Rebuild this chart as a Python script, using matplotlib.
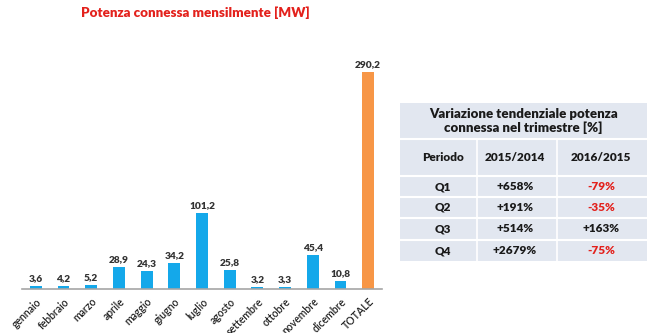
import matplotlib
matplotlib.use("Agg")
import matplotlib.pyplot as plt
from matplotlib.patches import Rectangle

plt.rcParams['font.family'] = ['Lato', 'DejaVu Sans']

# monthly connected power [MW]
mesi = ['gennaio', 'febbraio', 'marzo', 'aprile', 'maggio', 'giugno', 'luglio',
        'agosto', 'settembre', 'ottobre', 'novembre', 'dicembre', 'TOTALE']
valori = [3.6, 4.2, 5.2, 28.9, 24.3, 34.2, 101.2, 25.8, 3.2, 3.3, 45.4, 10.8, 290.2]

# quarterly table
tab_titolo = 'Variazione tendenziale potenza\nconnessa nel trimestre [%]'
tab_header = ['Periodo', '2015/2014', '2016/2015']
periodi = ['Q1', 'Q2', 'Q3', 'Q4']
var_2015 = ['+658%', '+191%', '+514%', '+2679%']
var_2016 = ['-79%', '-35%', '+163%', '-75%']

W, H = 650, 333
fig = plt.figure(figsize=(W / 100, H / 100), dpi=100)
BOLD = 'heavy'

# bar chart
ax = fig.add_axes([22 / W, (H - 289) / H, 360 / W, 224 / H])
x = range(len(valori))
colori = ['#14a8ea'] * (len(valori) - 1) + ['#f79646']
ax.bar(x, valori, width=0.43, color=colori)
for i, v in enumerate(valori):
    ax.text(i, v + 4, f'{v:.1f}'.replace('.', ','), ha='center', va='bottom',
            fontsize=7.3, fontweight=BOLD, color='#333333')
ax.set_xlim(-0.5, len(valori) - 0.5)
ax.set_ylim(0, 300)
ax.set_xticks(list(x))
ax.set_xticklabels(mesi, rotation=45, ha='right', rotation_mode='anchor',
                   fontsize=7.6, fontweight='semibold', color='#222222')
ax.tick_params(axis='x', length=0, pad=5)
ax.set_yticks([])
for s in ['top', 'right', 'left']:
    ax.spines[s].set_visible(False)
ax.spines['bottom'].set_color('#a6a6a6')
ax.spines['bottom'].set_linewidth(1.2)

fig.text(195 / W, 1 - 13 / H, 'Potenza connessa mensilmente [MW]', ha='center',
         va='center', fontsize=9.6, fontweight=BOLD, color='#e3211c')

# table drawn in pixel coordinates
tx = fig.add_axes([0, 0, 1, 1])
tx.set_xlim(0, W)
tx.set_ylim(H, 0)
tx.axis('off')
bg = '#e2e7f0'
left, right = 400, 647
cols = [400, 477, 557, 647]
righe = [103, 139, 176, 197, 218, 240, 261]
tx.add_patch(Rectangle((left, righe[0]), right - left, righe[-1] - righe[0],
                       facecolor=bg, edgecolor='none'))
for y in righe[1:-1]:
    tx.plot([left, right], [y, y], color='white', lw=1.5)
for c in cols[1:-1]:
    tx.plot([c, c], [righe[1], righe[-1]], color='white', lw=1.2)
tx.text((left + right) / 2, (righe[0] + righe[1]) / 2, tab_titolo, ha='center',
        va='center', fontsize=9.5, fontweight=BOLD, color='#1a1a1a',
        linespacing=1.2)
centri = [443, 515, 601]
for cx, h in zip(centri, tab_header):
    tx.text(cx, (righe[1] + righe[2]) / 2, h, ha='center', va='center',
            fontsize=8.5, fontweight=BOLD, color='#1a1a1a')
for r, (p, a, b) in enumerate(zip(periodi, var_2015, var_2016)):
    yc = (righe[r + 2] + righe[r + 3]) / 2
    tx.text(centri[0], yc, p, ha='center', va='center', fontsize=8.5,
            fontweight=BOLD, color='#1a1a1a')
    tx.text(centri[1], yc, a, ha='center', va='center', fontsize=8.5,
            fontweight=BOLD, color='#1a1a1a')
    tx.text(centri[2], yc, b, ha='center', va='center', fontsize=8.5,
            fontweight=BOLD, color='#e3211c' if b.startswith('-') else '#1a1a1a')

fig.savefig('out.png', dpi=100)
